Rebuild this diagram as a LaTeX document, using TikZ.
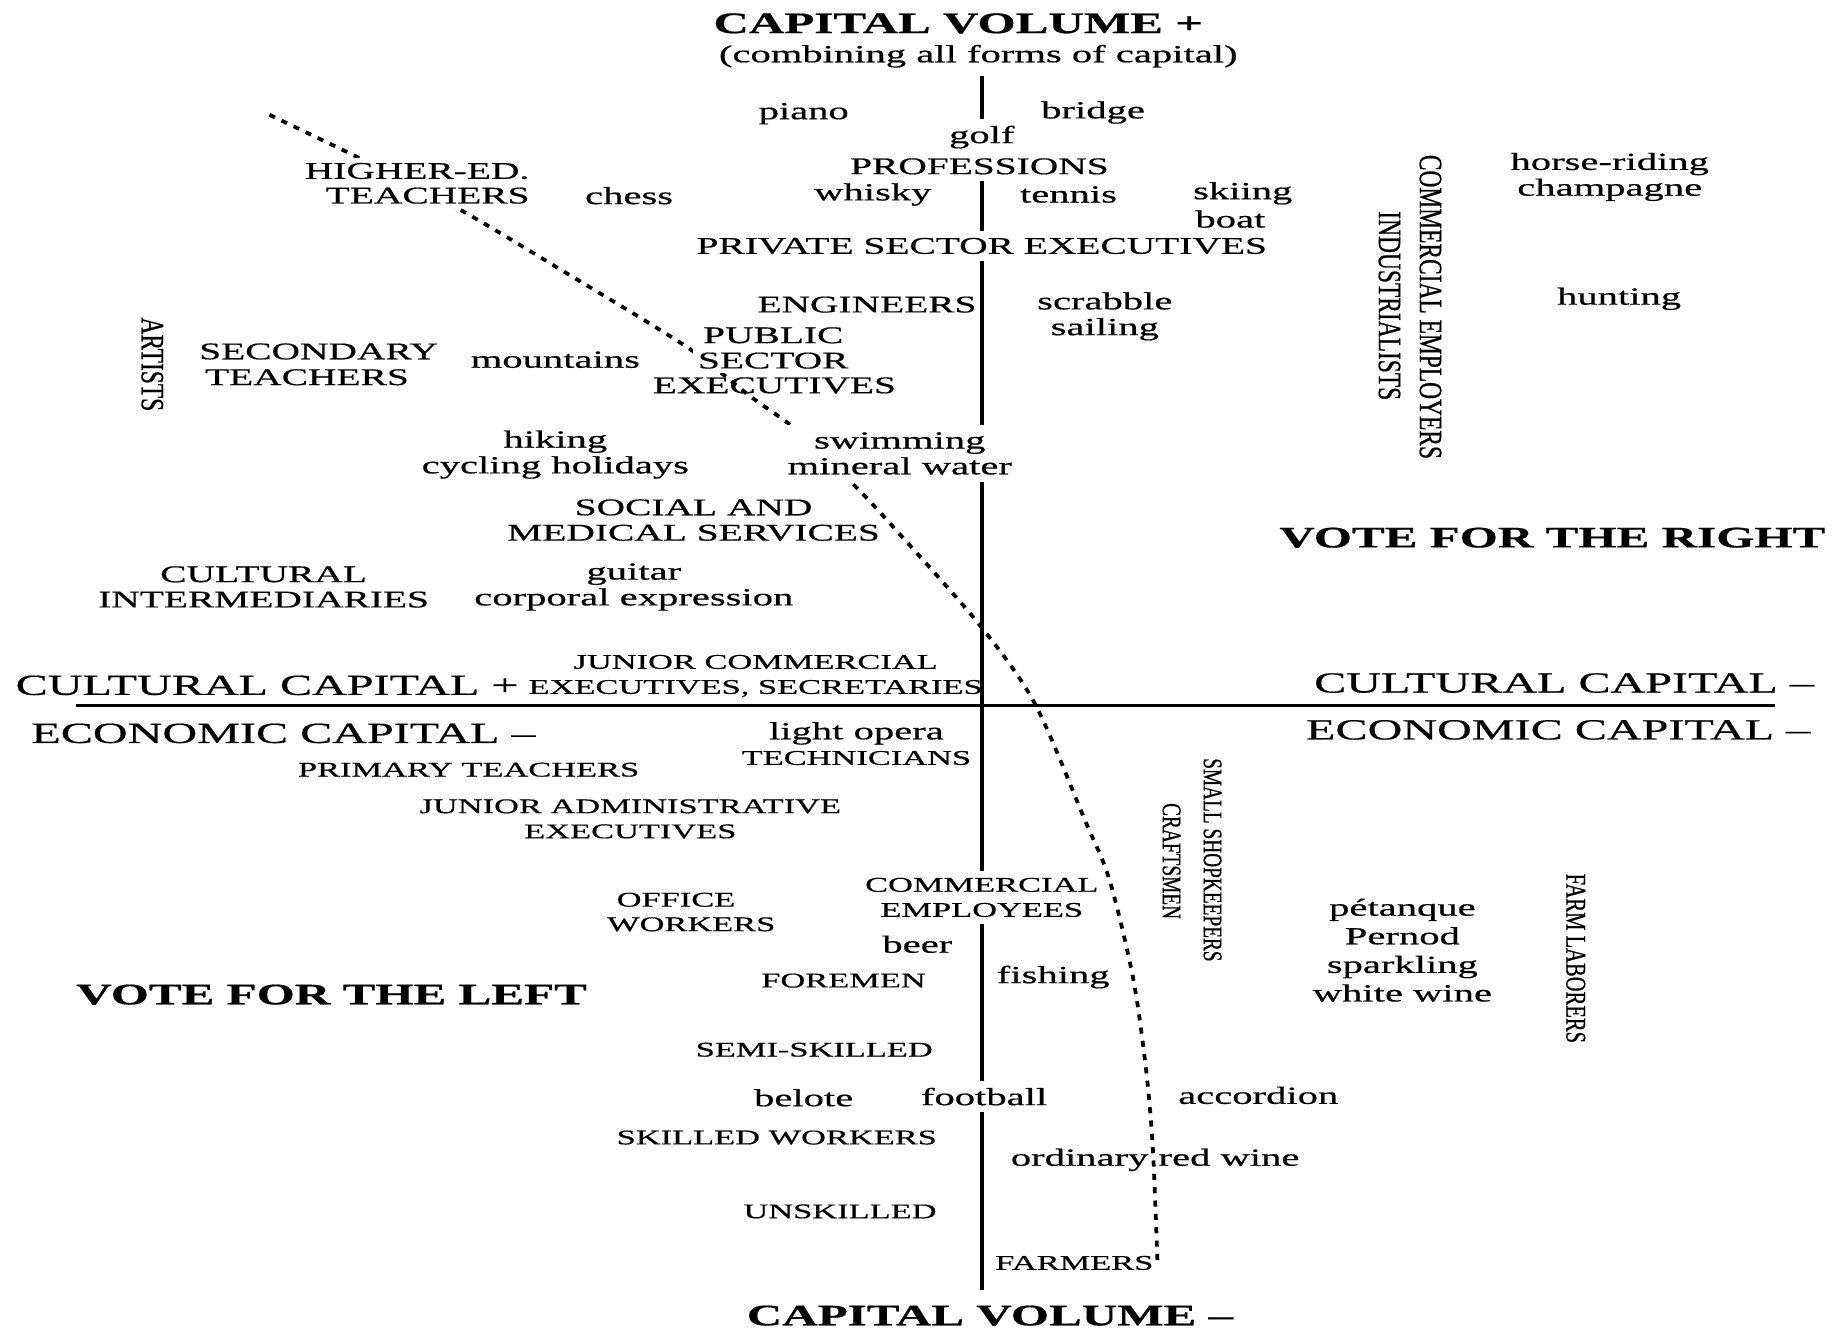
\documentclass[tikz,border=0pt]{standalone}
\usepackage{fontspec}
\setmainfont{Liberation Serif}[FakeStretch=1.65,FakeBold=0.6]
\newfontfamily\rotfont{Liberation Serif}[FakeStretch=0.72,FakeBold=0.6]
\begin{document}
\begin{tikzpicture}[x=0.5pt,y=-0.5pt,
  lab/.style={inner sep=1pt, align=center, font=\fontsize{10.5}{11}\selectfont},
  capslab/.style={inner sep=1pt, align=center, font=\fontsize{10.2}{10.8}\selectfont},
  sclab/.style={inner sep=1pt, align=center, font=\fontsize{8.9}{10.7}\selectfont},
  biglab/.style={inner sep=1pt, font=\fontsize{12.45}{15}\selectfont},
  boldlab/.style={inner sep=1pt, font=\fontsize{12.7}{15}\bfseries},
  rotlab/.style={inner sep=1pt, rotate=-90, font=\rotfont\fontsize{13.9}{14}\selectfont},
  rotsmall/.style={inner sep=1pt, rotate=-90, font=\rotfont\fontsize{11.45}{12}\selectfont},
  blank/.style={fill=white},
  axisline/.style={line width=1.5pt},
  divide/.style={line width=1.6pt, dash pattern=on 2.6pt off 3.1pt},
]
\fill[white] (0,0) rectangle (1568,1137);
\useasboundingbox (0,0) rectangle (1568,1137);

% axes
\coordinate (vtop) at (838,65);
\coordinate (vbot) at (838,1101);
\coordinate (hleft) at (65,602);
\coordinate (hright) at (1515,602);
\draw[axisline] (vtop) -- (vbot);
\draw[axisline] (hleft) -- (hright);

% dividing line
\draw[divide] plot[smooth] coordinates {(230,98) (311,137) (391,178) (480,231) (586,296) (640,338) (680,367) (725,410) (759,446) (835,532) (883,600) (926,700) (947,751) (967,834) (978,911) (984,980) (988,1078)};

% labels
\node[boldlab] (capplus) at (818,20) {CAPITAL VOLUME +};
\node[lab] (combining) at (835,48) {(combining all forms of capital)};
\node[lab] (piano) at (686,97) {piano};
\node[lab] (bridge) at (933,96) {bridge};
\node[lab,blank,inner ysep=3pt] (golf) at (838,117) {golf};
\node[capslab,blank,inner ysep=3pt] (professions) at (836,142) {PROFESSIONS};
\node[lab] (whisky) at (745,166) {whisky};
\node[lab] (tennis) at (912,166) {tennis};
\node[lab,anchor=west] (skiing) at (1016,165) {skiing};
\node[lab,anchor=west] (boat) at (1018,187) {boat};
\node[capslab,blank,inner sep=2pt] (highered) at (356,146) {HIGHER-ED.};
\node[capslab,blank,inner sep=2pt] (hteachers) at (365,167) {TEACHERS};
\node[lab] (chess) at (537,167) {chess};
\node[capslab,blank,inner ysep=3pt] (privsec) at (838,210) {PRIVATE SECTOR EXECUTIVES};
\node[lab] (horse) at (1374,151) {horse-riding\\champagne};
\node[rotlab] (comemployers) at (1221,262) {COMMERCIAL EMPLOYERS};
\node[rotlab] (industrialists) at (1186,261) {INDUSTRIALISTS};
\node[lab] (hunting) at (1382,255) {hunting};
\node[capslab] (engineers) at (740,260) {ENGINEERS};
\node[lab] (scrabble) at (943,270) {scrabble\\sailing};
\node[rotlab] (artists) at (130,311) {ARTISTS};
\node[capslab] (secondary) at (272,300) {SECONDARY};
\node[capslab] (steachers) at (262,322) {TEACHERS};
\node[lab] (mountains) at (474,307) {mountains};
\node[capslab,blank,inner sep=2pt] (public) at (660,297) {PUBLIC\\SECTOR};
\node[capslab] (pexec) at (661,329) {EXECUTIVES};
\node[lab] (hiking) at (474,388) {hiking\\cycling holidays};
\node[lab,blank,inner sep=3pt] (swimming) at (768,387) {swimming\\mineral water};
\node[capslab] (social) at (592,444) {SOCIAL AND\\MEDICAL SERVICES};
\node[boldlab] (voteright) at (1325,459) {VOTE FOR THE RIGHT};
\node[capslab] (culturalint) at (225,501) {CULTURAL\\INTERMEDIARIES};
\node[lab] (guitar) at (541,501) {guitar\\corporal expression};
\node[sclab] (juniorcom) at (645,577) {JUNIOR COMMERCIAL\\EXECUTIVES, SECRETARIES};
\node[biglab] (ccplus) at (228,585) {CULTURAL CAPITAL +};
\node[biglab] (ccminus) at (1335,583) {CULTURAL CAPITAL \textendash};
\node[biglab] (ecminusL) at (242,626) {ECONOMIC CAPITAL \textendash};
\node[biglab] (ecminusR) at (1330,623) {ECONOMIC CAPITAL \textendash};
\node[lab] (lightopera) at (731,626) {light opera};
\node[sclab] (technicians) at (731,647) {TECHNICIANS};
\node[sclab] (primary) at (400,657) {PRIMARY TEACHERS};
\node[sclab] (junioradm) at (538,699) {JUNIOR ADMINISTRATIVE\\EXECUTIVES};
\node[rotsmall] (shopkeepers) at (1035,734) {SMALL SHOPKEEPERS};
\node[rotsmall] (craftsmen) at (1000,735) {CRAFTSMEN};
\node[sclab,blank,inner sep=3pt] (comemployees) at (838,766) {COMMERCIAL\\EMPLOYEES};
\node[sclab] (office) at (577,768) {OFFICE};
\node[sclab] (workers) at (590,789) {WORKERS};
\node[lab,font=\fontsize{10.5}{12.2}\selectfont] (petanque) at (1197,811) {pétanque\\Pernod\\sparkling\\white wine};
\node[rotsmall,font=\rotfont\fontsize{12.2}{12}\selectfont] (farmlab) at (1345,818) {FARM LABORERS};
\node[lab] (beer) at (783,806) {beer};
\node[sclab] (foremen) at (720,837) {FOREMEN};
\node[lab] (fishing) at (899,834) {fishing};
\node[boldlab] (voteleft) at (283,849) {VOTE FOR THE LEFT};
\node[sclab] (semiskilled) at (695,896) {SEMI-SKILLED};
\node[lab] (belote) at (686,937) {belote};
\node[lab,blank,inner sep=3pt] (football) at (840,936) {football};
\node[lab] (accordion) at (1074,935) {accordion};
\node[sclab] (skilled) at (663,971) {SKILLED WORKERS};
\node[lab] (redwine) at (986,990) {ordinary red wine};
\node[sclab] (unskilled) at (717,1034) {UNSKILLED};
\node[sclab] (farmers) at (917,1078) {FARMERS};
\node[boldlab] (capminus) at (845,1123) {CAPITAL VOLUME \textendash};
\end{tikzpicture}
\end{document}
